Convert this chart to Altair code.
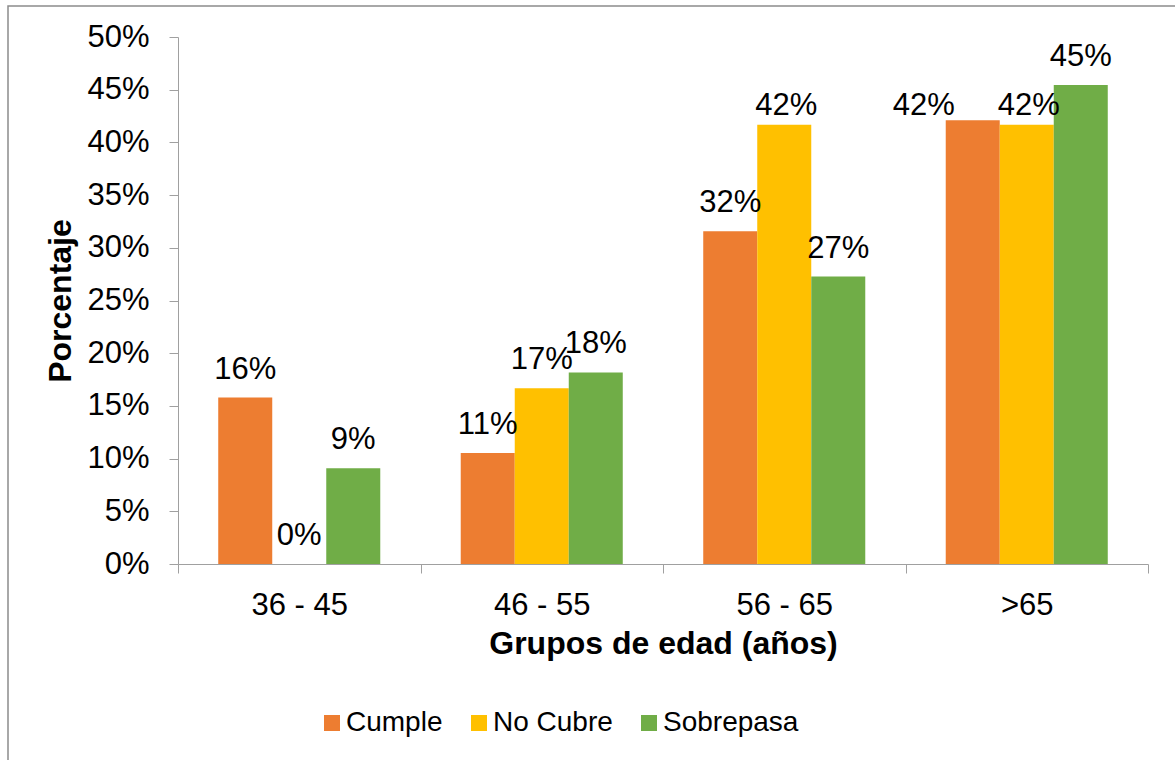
import altair as alt
import pandas as pd

groups = ["36 - 45", "46 - 55", "56 - 65", ">65"]
series = ["Cumple", "No Cubre", "Sobrepasa"]
colors = ["#ED7D31", "#FFC000", "#70AD47"]
cumple = [15.79, 10.53, 31.58, 42.11]
no_cubre = [0.0, 16.67, 41.67, 41.67]
sobrepasa = [9.09, 18.18, 27.27, 45.45]
y_ticks = [0, 5, 10, 15, 20, 25, 30, 35, 40, 45, 50]

rows = []
for s, vals in zip(series, [cumple, no_cubre, sobrepasa]):
    for g, v in zip(groups, vals):
        rows.append({"grupo": g, "serie": s, "valor": v, "etiqueta": f"{round(v)}%"})
df = pd.DataFrame(rows)

FONT = "Liberation Sans"
AX = "#a0a0a0"

x_enc = alt.X(
    "grupo:N", sort=groups,
    scale=alt.Scale(paddingInner=0, paddingOuter=0),
    axis=alt.Axis(
        title="Grupos de edad (años)", labelAngle=0, labelFontSize=31,
        labelFont=FONT, labelColor="#000000", labelPadding=17,
        tickBand="extent", tickSize=9, tickColor=AX, domainColor=AX,
        titleFont=FONT, titleFontSize=32, titleFontWeight="bold",
        titleColor="#000000", titleY=89, titleBaseline="alphabetic",
    ),
)
xo_enc = alt.XOffset("serie:N", sort=series, scale=alt.Scale(paddingInner=0, paddingOuter=0.745))
y_enc = alt.Y(
    "valor:Q", scale=alt.Scale(domain=[0, 50], nice=False),
    axis=alt.Axis(
        title="Porcentaje", values=y_ticks, labelExpr="datum.value + '%'",
        labelFontSize=31, labelFont=FONT, labelColor="#000000", labelPadding=20,
        tickSize=9, tickColor=AX, domainColor=AX, grid=False,
        titleFont=FONT, titleFontSize=32, titleFontWeight="bold",
        titleColor="#000000", titleX=-108, titleBaseline="alphabetic", titleAngle=270,
    ),
)

base = alt.Chart(df).encode(x=x_enc, xOffset=xo_enc, y=y_enc)

bars = base.mark_bar().encode(
    color=alt.Color(
        "serie:N", sort=series, scale=alt.Scale(domain=series, range=colors),
        legend=alt.Legend(
            title=None, orient="none", direction="horizontal",
            legendX=140, legendY=672, symbolType="square", symbolSize=256,
            symbolStrokeWidth=0, labelFont=FONT, labelFontSize=28,
            labelColor="#000000", labelOffset=0, columnPadding=22,
        ),
    )
)

txt_kw = dict(font=FONT, fontSize=31, color="#000000", baseline="alphabetic", align="center")

labels = base.mark_text(dy=-19, **txt_kw).encode(text="etiqueta:N").transform_filter(
    "!(datum.serie == 'No Cubre' && datum.valor > 40) && !(datum.grupo == '>65' && datum.serie == 'Cumple')"
)
labels_nc = base.mark_text(dy=-10, dx=2, **txt_kw).encode(text="etiqueta:N").transform_filter(
    "datum.serie == 'No Cubre' && datum.valor > 40"
)
labels_c65 = base.mark_text(dy=-5, dx=-49, **txt_kw).encode(text="etiqueta:N").transform_filter(
    "datum.grupo == '>65' && datum.serie == 'Cumple'"
)

border = alt.Chart(alt.Data(values=[{}])).mark_rect(
    fill=None, stroke="#8c8c8c", strokeWidth=1.5, clip=False
).encode(x=alt.value(-170), x2=alt.value(1010), y=alt.value(-31), y2=alt.value(740))

chart = alt.layer(border, bars, labels, labels_nc, labels_c65).properties(
    width=970, height=527,
    autosize=alt.AutoSizeParams(type="none"),
    padding={"left": 178, "top": 37, "right": 27, "bottom": 196},
    background="#ffffff",
).configure_view(stroke=None)

chart.save("out.html", embed_options={"renderer": "svg", "actions": False})
